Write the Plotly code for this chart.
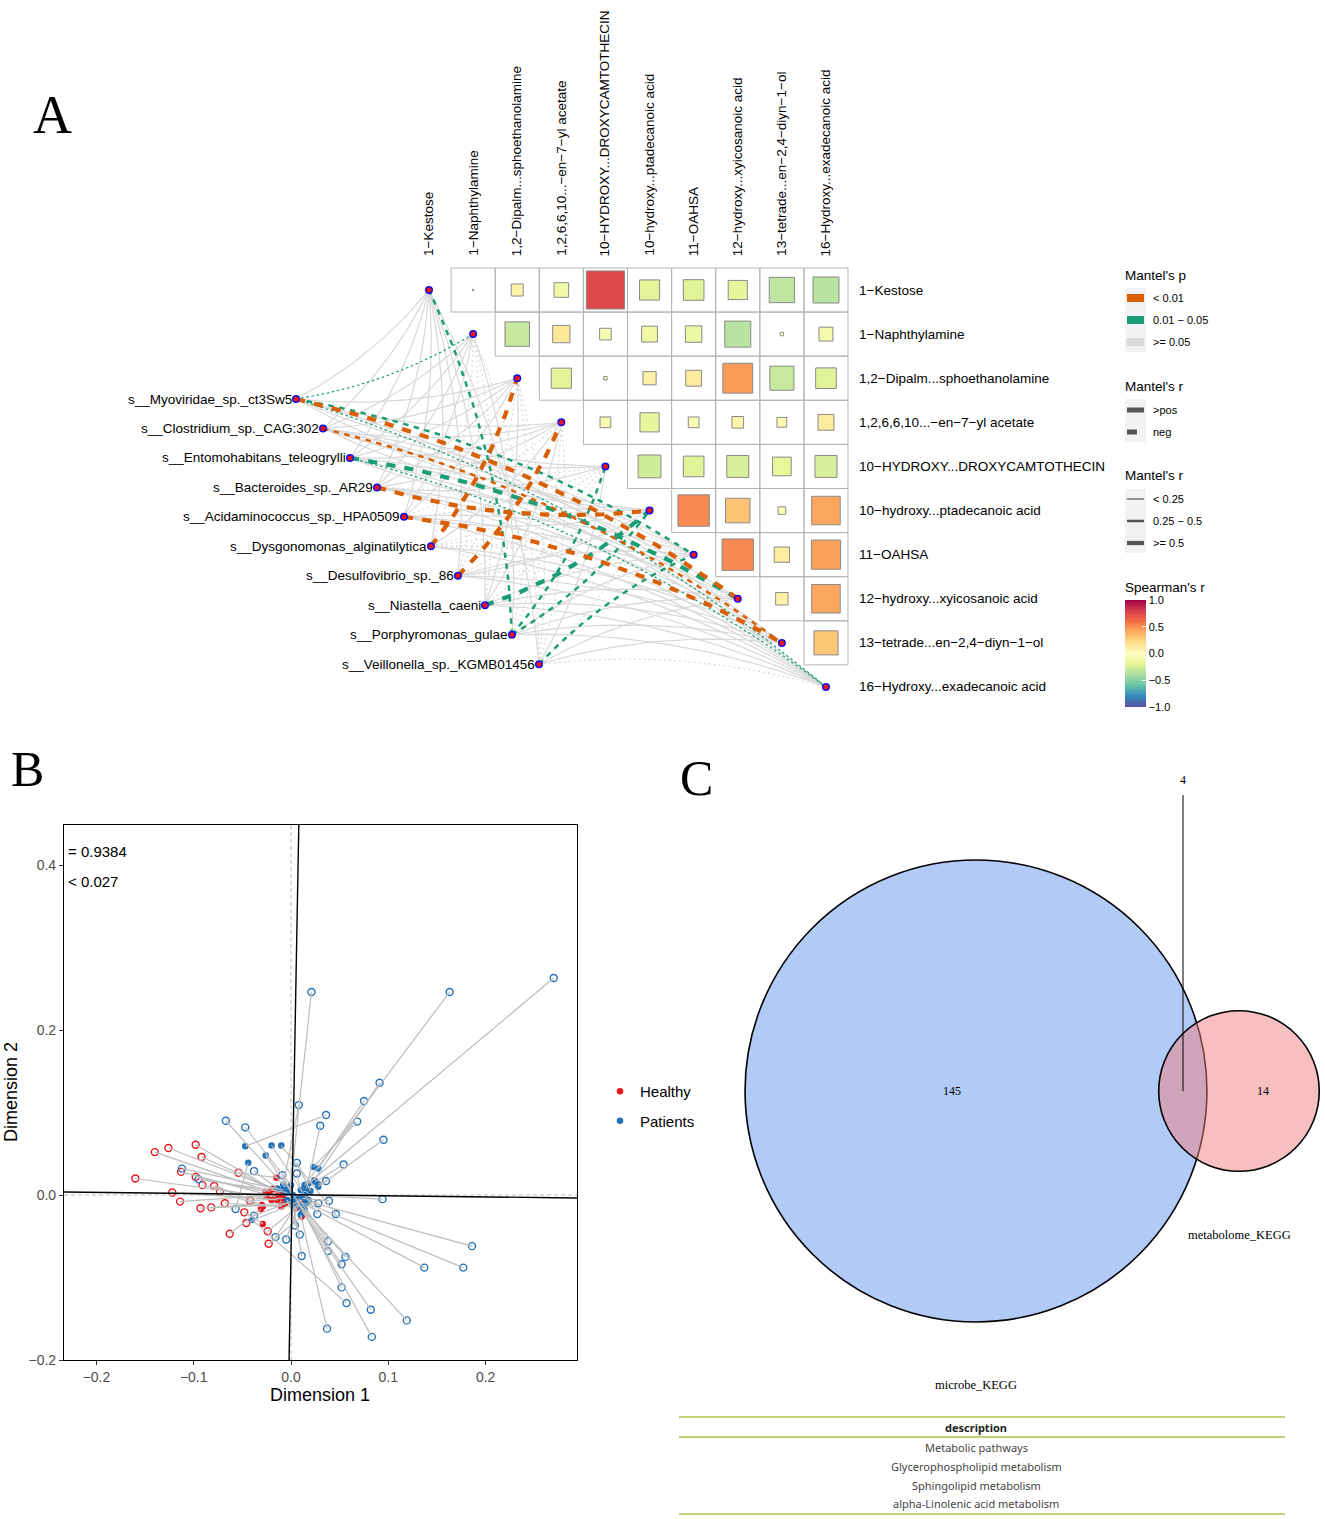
import math
import plotly.graph_objects as go

W, H = 1325, 1519

# ---------- panel A data ----------
metabolites_top = ["1−Kestose", "1−Naphthylamine", "1,2−Dipalm...sphoethanolamine", "1,2,6,6,10...−en−7−yl acetate",
                   "10−HYDROXY...DROXYCAMTOTHECIN", "10−hydroxy...ptadecanoic acid", "11−OAHSA",
                   "12−hydroxy...xyicosanoic acid", "13−tetrade...en−2,4−diyn−1−ol", "16−Hydroxy...exadecanoic acid"]
species = ["s__Myoviridae_sp._ct3Sw5", "s__Clostridium_sp._CAG:302", "s__Entomohabitans_teleogrylli",
           "s__Bacteroides_sp._AR29", "s__Acidaminococcus_sp._HPA0509", "s__Dysgonomonas_alginatilytica",
           "s__Desulfovibrio_sp._86", "s__Niastella_caeni", "s__Porphyromonas_gulae", "s__Veillonella_sp._KGMB01456"]
# Spearman r, upper triangle, one list per row (column = row + 1 ...)
spearman_r = [
    [0.001, 0.075, -0.11, 0.75, -0.21, -0.22, -0.19, -0.33, -0.35],
    [-0.31, 0.155, -0.07, -0.13, -0.14, -0.35, 0.006, -0.10],
    [-0.21, 0.006, 0.09, 0.13, 0.46, -0.30, -0.22],
    [-0.06, -0.19, -0.06, 0.07, 0.05, 0.13],
    [-0.27, -0.22, -0.25, -0.18, -0.25],
    [0.51, 0.31, -0.03, 0.42],
    [0.51, 0.12, 0.44],
    [0.08, 0.42],
    [0.30],
]
# Mantel p class per species (row) and metabolite (digit): 0 <0.01, 1 0.01-0.05, 2 >=0.05
mantel_p = ["2122221021", "2222222202", "2222222121", "2222202222", "2222222202",
            "2202222222", "2220222222", "2222212222", "1222112222", "2222221222"]
# Mantel r class: 0 <0.25, 1 0.25-0.5, 2 >=0.5
mantel_r = ["0000001200", "0000000010", "0000000200", "0000020000", "0000000020",
            "0020000000", "0002000000", "0000020000", "1000110000", "0000001000"]
# Mantel r sign: 1 positive, 0 negative
mantel_sign = ["1011110010", "1111111101", "1111011010", "1111100111", "1110011101",
               "1001000011", "1000011011", "1011001111", "0100001111", "1000100110"]

p_labels = ["< 0.01", "0.01 − 0.05", ">= 0.05"]
sign_labels = [">pos", "neg"]
r_labels = ["< 0.25", "0.25 − 0.5", ">= 0.5"]
spearman_ticks = [-1.0, -0.5, 0.0, 0.5, 1.0]

# ---------- panel B data ----------
healthy_outer_x = [-0.160, -0.140, -0.126, -0.098, -0.092, -0.113, -0.098, -0.091, -0.079, -0.073, -0.122,
                   -0.114, -0.093, -0.082, -0.068, -0.054, -0.042, -0.046, -0.063, -0.024, -0.023, -0.048]
healthy_outer_y = [0.020, 0.052, 0.057, 0.061, 0.046, 0.028, 0.022, 0.012, 0.011, 0.004, 0.003,
                   -0.008, -0.016, -0.015, -0.010, 0.027, -0.007, -0.034, -0.047, -0.044, -0.059, -0.021]
healthy_inner_x = [-0.025, -0.022, -0.017, -0.012, -0.018, -0.016, -0.026, -0.020, -0.030, -0.029, -0.014,
                   -0.010, -0.009, -0.006, -0.010, -0.015, -0.008, 0.012, -0.031, 0.005, 0.011, -0.029]
healthy_inner_y = [-0.002, 0.004, 0.007, 0.002, 0.008, -0.002, 0.004, -0.006, -0.012, -0.014, -0.006,
                   0.001, -0.012, -0.010, -0.014, 0.021, -0.004, -0.006, -0.017, -0.016, -0.026, -0.035]
patients_outer_x = [-0.067, -0.047, 0.008, 0.036, 0.030, 0.091, 0.075, 0.068, 0.095, 0.054, 0.006, 0.006, -0.009,
                    -0.038, -0.112, -0.095, 0.036, 0.094, 0.039, 0.028, 0.046, 0.027, -0.057, -0.038, -0.016, -0.005,
                    0.004, 0.009, 0.038, 0.038, 0.011, 0.052, 0.056, 0.052, 0.057, 0.082, 0.037, 0.083, 0.270, 0.163,
                    0.021, 0.186, 0.177, 0.137, 0.119]
patients_outer_y = [0.090, 0.082, 0.109, 0.097, 0.084, 0.136, 0.114, 0.089, 0.067, 0.037, 0.039, 0.026, 0.024,
                    0.029, 0.032, 0.019, 0.017, -0.005, -0.007, -0.010, -0.023, -0.023, -0.017, -0.025, -0.051, -0.054,
                    -0.037, -0.048, -0.056, -0.068, -0.074, -0.084, -0.075, -0.112, -0.131, -0.139, -0.162, -0.172,
                    0.263, 0.246, 0.246, -0.062, -0.088, -0.088, -0.152]
patients_inner_x = [-0.006, 0.000, -0.008, -0.047, 0.016, 0.024, 0.028, 0.023, 0.028, 0.025, 0.020, 0.010, 0.002,
                    -0.014, -0.008, -0.004, 0.028, 0.014, 0.012, 0.018, -0.010, -0.020, -0.044, 0.000, 0.006, 0.008,
                    0.004, -0.004, 0.008, 0.005, 0.002, -0.026, 0.014, 0.012, -0.040, 0.012, 0.010, 0.008, 0.018, 0.014,
                    -0.001, 0.018, 0.016, 0.006, 0.010]
patients_inner_y = [0.010, 0.012, 0.012, 0.059, 0.008, 0.018, 0.032, 0.034, 0.010, 0.016, 0.005, 0.006, 0.000,
                    0.008, 0.006, 0.003, 0.013, 0.000, -0.004, -0.006, 0.060, 0.060, 0.039, -0.008, -0.012, -0.010,
                    -0.014, -0.006, -0.004, -0.007, -0.012, 0.048, -0.018, -0.016, -0.030, -0.020, -0.024, -0.010,
                    0.014, 0.012, 0.006, -0.008, -0.010, -0.006, -0.014]
rotated_vertical_x = [0.008, -0.002]
rotated_vertical_y = [0.4485, -0.2]
rotated_horizontal_x = [-0.2333, 0.2939]
rotated_horizontal_y = [0.0036, -0.0036]
x_ticks = [-0.2, -0.1, 0.0, 0.1, 0.2]
y_ticks = [-0.2, 0.0, 0.2, 0.4]

# ---------- panel C data ----------
venn_only_left, venn_shared, venn_only_right = 145, 4, 14
venn_names = ["microbe_KEGG", "metabolome_KEGG"]
table_header = "description"
table_rows = ["Metabolic pathways", "Glycerophospholipid metabolism", "Sphingolipid metabolism",
              "alpha-Linolenic acid metabolism"]

# ---------- helpers ----------
SANS = "Liberation Sans"
SERIF = "Liberation Serif"
SPECTRAL = ["#5E4FA2", "#3288BD", "#66C2A5", "#ABDDA4", "#E6F598", "#FFFFBF",
            "#FEE08B", "#FDAE61", "#F46D43", "#D53E4F", "#9E0142"]
colorscale = [[i / 10, c] for i, c in enumerate(SPECTRAL)]
P_COLORS = ["#D95F02", "#1B9E77", "#D8D8D8"]
R_WIDTHS = [1.2, 2.5, 4.2]
CELL = 44.11
A_X0, A_Y0 = 429.0, 290.0

fig = go.Figure()
annotations, shapes = [], []


def px_note(x, y, text, size=12, family=SANS, color="#000000", anchor="left", angle=0):
    annotations.append(dict(xref="paper", yref="paper", x=x / W, y=1 - y / H, text=text, showarrow=False,
                            xanchor=anchor, yanchor="middle", textangle=angle, borderpad=0, borderwidth=0,
                            font=dict(family=family, size=size, color=color)))


def px_rect(x0, y0, x1, y1, fill):
    shapes.append(dict(type="rect", xref="paper", yref="paper", x0=x0 / W, x1=x1 / W, y0=1 - y0 / H, y1=1 - y1 / H,
                       fillcolor=fill, line=dict(width=0), layer="above"))


def px_line(x0, y0, x1, y1, color, width):
    shapes.append(dict(type="line", xref="paper", yref="paper", x0=x0 / W, x1=x1 / W, y0=1 - y0 / H, y1=1 - y1 / H,
                       line=dict(color=color, width=width), layer="above"))


# ---------- panel A: links ----------
n = len(metabolites_top)
sp_x = [(296 - A_X0) / CELL + k * 0.612 for k in range(len(species))]
sp_y = [(399 - A_Y0) / CELL + k * 0.668 for k in range(len(species))]
groups = {}
for s in range(len(species)):
    for m in range(n):
        key = (int(mantel_p[s][m]), int(mantel_r[s][m]), int(mantel_sign[s][m]))
        x0, y0, x1, y1 = sp_x[s], sp_y[s], m, m
        dx, dy = x1 - x0, y1 - y0
        px, py = (-dy, dx) if m <= 5 else (dy, -dx)
        cx, cy = (x0 + x1) / 2 + 0.1 * px, (y0 + y1) / 2 + 0.1 * py
        xs, ys = groups.setdefault(key, ([], []))
        for t in range(25):
            u = t / 24
            xs.append((1 - u) ** 2 * x0 + 2 * u * (1 - u) * cx + u * u * x1)
            ys.append((1 - u) ** 2 * y0 + 2 * u * (1 - u) * cy + u * u * y1)
        xs.append(None)
        ys.append(None)
for key in sorted(groups, key=lambda k: (-k[0], k[1])):
    pc, rc, sg = key
    w = R_WIDTHS[rc]
    dash = "solid" if sg == 1 else f"{2.2 * w:.1f}px,{2.2 * w:.1f}px"
    if pc == 2:
        w = 1.2
        dash = "solid" if sg == 1 else "2px,3px"
    fig.add_trace(go.Scatter(x=groups[key][0], y=groups[key][1], mode="lines", showlegend=False, hoverinfo="skip",
                             line=dict(color=P_COLORS[pc], width=w, dash=dash), xaxis="x", yaxis="y"))

# matrix grid and squares
grid_x, grid_y, cell_x, cell_y, cell_r = [], [], [], [], []
for row, values in enumerate(spearman_r):
    for off, val in enumerate(values):
        col = row + 1 + off
        grid_x.append(col)
        grid_y.append(row)
        cell_x.append(col)
        cell_y.append(row)
        cell_r.append(val)
fig.add_trace(go.Scatter(x=grid_x, y=grid_y, mode="markers", showlegend=False, hoverinfo="skip",
                         marker=dict(symbol="square", size=44, color="rgba(255,255,255,0)", opacity=1,
                                     line=dict(color="#B4B4B4", width=1)), xaxis="x", yaxis="y"))
fig.add_trace(go.Scatter(x=cell_x, y=cell_y, mode="markers", showlegend=False,
                         marker=dict(symbol="square", size=[44 * math.sqrt(abs(v)) for v in cell_r], color=cell_r,
                                     colorscale=colorscale, cmin=-1, cmax=1, opacity=1,
                                     line=dict(color="#8A8A8A", width=1), showscale=True,
                                     colorbar=dict(x=1125 / W, xanchor="left", xpad=0, y=1 - 600 / H, yanchor="top",
                                                   ypad=0, len=107, lenmode="pixels", thickness=21,
                                                   thicknessmode="pixels", outlinewidth=0, tickvals=spearman_ticks,
                                                   tickformat=".1f", ticks="inside", ticklen=4, tickcolor="#FFFFFF",
                                                   tickprefix="\u00a0",
                                                   tickfont=dict(family=SANS, size=11, color="#000000"))),
                         xaxis="x", yaxis="y"))
fig.add_trace(go.Scatter(x=sp_x + list(range(n)), y=sp_y + list(range(n)), mode="markers", showlegend=False,
                         hoverinfo="skip",
                         marker=dict(symbol="circle", size=6.5, color="#EE1111", line=dict(color="#1010EE", width=1.5)),
                         xaxis="x", yaxis="y"))

LABEL_SIZE = 13.5
for k, name in enumerate(species):
    annotations.append(dict(xref="x", yref="y", x=sp_x[k], y=sp_y[k], text=name, showarrow=False, xanchor="right",
                            yanchor="middle", xshift=-4, borderpad=0, borderwidth=0,
                            font=dict(family=SANS, size=LABEL_SIZE, color="#000000")))
for k, name in enumerate(metabolites_top):
    annotations.append(dict(xref="x", yref="paper", x=k, y=1 - 256 / H, text=name, showarrow=False, xanchor="center",
                            yanchor="bottom", textangle=-90, borderpad=0, borderwidth=0,
                            font=dict(family=SANS, size=LABEL_SIZE, color="#000000")))
    annotations.append(dict(xref="paper", yref="y", x=859 / W, y=k, text=name, showarrow=False, xanchor="left",
                            yanchor="middle", borderpad=0, borderwidth=0,
                            font=dict(family=SANS, size=LABEL_SIZE, color="#000000")))

# panel A legends
px_note(1125, 275, "Mantel's p", 13.5)
px_rect(1125, 288, 1146, 352, "#F2F2F2")
for k, lab in enumerate(p_labels):
    y = 298 + 22 * k
    px_rect(1127, y - 4, 1144, y + 4, P_COLORS[k])
    px_note(1153, y, lab, 11)
px_note(1125, 386, "Mantel's r", 13.5)
px_rect(1125, 399, 1146, 442, "#F2F2F2")
for k, lab in enumerate(sign_labels):
    y = 410 + 22 * k
    px_rect(1127, y - 2.5, 1144 if k == 0 else 1137, y + 2.5, "#555555")
    px_note(1153, y, lab, 11)
px_note(1125, 476, "Mantel's r", 13.5)
px_rect(1125, 489, 1146, 553, "#F2F2F2")
for k, lab in enumerate(r_labels):
    y = 499 + 22 * k
    px_rect(1127, y - R_WIDTHS[k] / 2, 1144, y + R_WIDTHS[k] / 2, "#555555")
    px_note(1153, y, lab, 11)
px_note(1125, 587, "Spearman's r", 13.5)

# ---------- panel B ----------
RED, BLUE = "#E8141C", "#2272B8"
for ox, oy, ix, iy, col, name in [
    (healthy_outer_x, healthy_outer_y, healthy_inner_x, healthy_inner_y, RED, "Healthy"),
    (patients_outer_x, patients_outer_y, patients_inner_x, patients_inner_y, BLUE, "Patients"),
]:
    fig.add_trace(go.Scatter(x=ix, y=iy, mode="markers", name=name, legendgroup=name,
                             marker=dict(symbol="circle", size=6.5, color=col, opacity=1), xaxis="x2", yaxis="y2"))
    fig.add_trace(go.Scatter(x=ox, y=oy, mode="markers", showlegend=False, legendgroup=name,
                             marker=dict(symbol="circle", size=7, color="rgba(255,255,255,0)", opacity=1,
                                         line=dict(color=col, width=1.4)), xaxis="x2", yaxis="y2"))
for ox, oy, ix, iy in [(healthy_outer_x, healthy_outer_y, healthy_inner_x, healthy_inner_y),
                       (patients_outer_x, patients_outer_y, patients_inner_x, patients_inner_y)]:
    lx, ly = [], []
    for a, b, c, d in zip(ox, oy, ix, iy):
        lx += [a, c, None]
        ly += [b, d, None]
    fig.add_trace(go.Scatter(x=lx, y=ly, mode="lines", showlegend=False, hoverinfo="skip",
                             line=dict(color="#BDBDBD", width=1.2), xaxis="x2", yaxis="y2"))
fig.add_trace(go.Scatter(x=[0, 0, None, -0.2333, 0.2939], y=[0.4485, -0.2, None, 0, 0], mode="lines", showlegend=False,
                         hoverinfo="skip", line=dict(color="#BDBDBD", width=1, dash="4px,3px"), xaxis="x2", yaxis="y2"))
fig.add_trace(go.Scatter(x=rotated_vertical_x + [None] + rotated_horizontal_x,
                         y=rotated_vertical_y + [None] + rotated_horizontal_y, mode="lines", showlegend=False,
                         hoverinfo="skip", line=dict(color="#000000", width=1.4), xaxis="x2", yaxis="y2"))
px_note(68, 851, "= 0.9384", 15)
px_note(68, 881, "< 0.027", 15)
px_note(320, 1395, "Dimension 1", 18, anchor="center")
px_note(11, 1092, "Dimension 2", 18, anchor="center", angle=-90)

# ---------- panel C ----------
left_total = venn_only_left + venn_shared
right_total = venn_only_right + venn_shared
r_left, r_right = math.sqrt(left_total), math.sqrt(right_total)
SCALE = 18.92
dist = 13.9
shapes.append(dict(type="circle", xref="x3", yref="y3", x0=-r_left, x1=r_left, y0=-r_left, y1=r_left,
                   fillcolor="rgba(100,149,237,0.5)", line=dict(color="#000000", width=1.6), layer="above"))
shapes.append(dict(type="circle", xref="x3", yref="y3", x0=dist - r_right, x1=dist + r_right, y0=-r_right, y1=r_right,
                   fillcolor="rgba(240,128,128,0.5)", line=dict(color="#000000", width=1.6), layer="above"))
px_line(1183, 795, 1183, 1091, "#000000", 1)
px_note(1183, 780, str(venn_shared), 12, SERIF, anchor="center")
px_note(952, 1091, str(venn_only_left), 12, SERIF, anchor="center")
px_note(1263, 1091, str(venn_only_right), 12, SERIF, anchor="center")
px_note(976, 1385, venn_names[0], 12.5, SERIF, anchor="center")
px_note(1239, 1235, venn_names[1], 12.5, SERIF, anchor="center")

# table
for y in (1417, 1437, 1514):
    px_line(679, y, 1285, y, "#A9C64E", 1.5)
px_note(976, 1427, "<b>" + table_header + "</b>", 11, "Noto Sans", "#222222", anchor="center")
for y, row in zip((1447, 1466, 1485, 1503), table_rows):
    px_note(976, y, row, 11, "Noto Sans", "#444444", anchor="center")

# panel letters
px_note(52, 115, "A", 54, SERIF, anchor="center")
px_note(27, 769, "B", 50, SERIF, anchor="center")
px_note(696, 778, "C", 50, SERIF, anchor="center")

hidden = dict(visible=False, showgrid=False, zeroline=False, domain=[0, 1], fixedrange=True, automargin=False)
axis_b = dict(ticks="outside", ticklen=4, tickcolor="#333333", showgrid=False, zeroline=False, showline=True,
              mirror=True, linecolor="#000000", linewidth=1.2, tickformat=".1f", automargin=False,
              tickfont=dict(family=SANS, size=14, color="#4D4D4D"))
fig.update_layout(
    width=W, height=H, margin=dict(l=0, r=0, t=0, b=0, pad=0, autoexpand=False), paper_bgcolor="#FFFFFF",
    plot_bgcolor="rgba(0,0,0,0)", autosize=False, hovermode=False,
    xaxis=dict(range=[-A_X0 / CELL, (W - A_X0) / CELL], **hidden),
    yaxis=dict(range=[(H - A_Y0) / CELL, -A_Y0 / CELL], **hidden),
    xaxis3=dict(range=[-976 / SCALE, (W - 976) / SCALE], overlaying="x", anchor="y3", **hidden),
    yaxis3=dict(range=[(1091 - H) / SCALE, 1091 / SCALE], overlaying="y", anchor="x3", **hidden),
    xaxis2=dict(domain=[64 / W, 577 / W], range=[-0.2333, 0.2939], anchor="y2", tickvals=x_ticks, **axis_b),
    yaxis2=dict(domain=[1 - 1360 / H, 1 - 825 / H], range=[-0.2, 0.4485], anchor="x2", tickvals=y_ticks, **axis_b),
    showlegend=True,
    legend=dict(x=600 / W, xanchor="left", y=1 - 1075 / H, yanchor="top", tracegroupgap=7, bgcolor="rgba(0,0,0,0)",
                font=dict(family=SANS, size=15, color="#000000"), itemclick=False, itemdoubleclick=False),
    annotations=annotations, shapes=shapes,
)
fig.add_trace(go.Scatter(x=[0], y=[0], mode="markers", marker=dict(size=1, color="rgba(0,0,0,0)"), showlegend=False,
                         hoverinfo="skip", xaxis="x3", yaxis="y3"))
fig.write_html("out.html", config={"displayModeBar": False}, post_script="document.body.style.margin='0';")
